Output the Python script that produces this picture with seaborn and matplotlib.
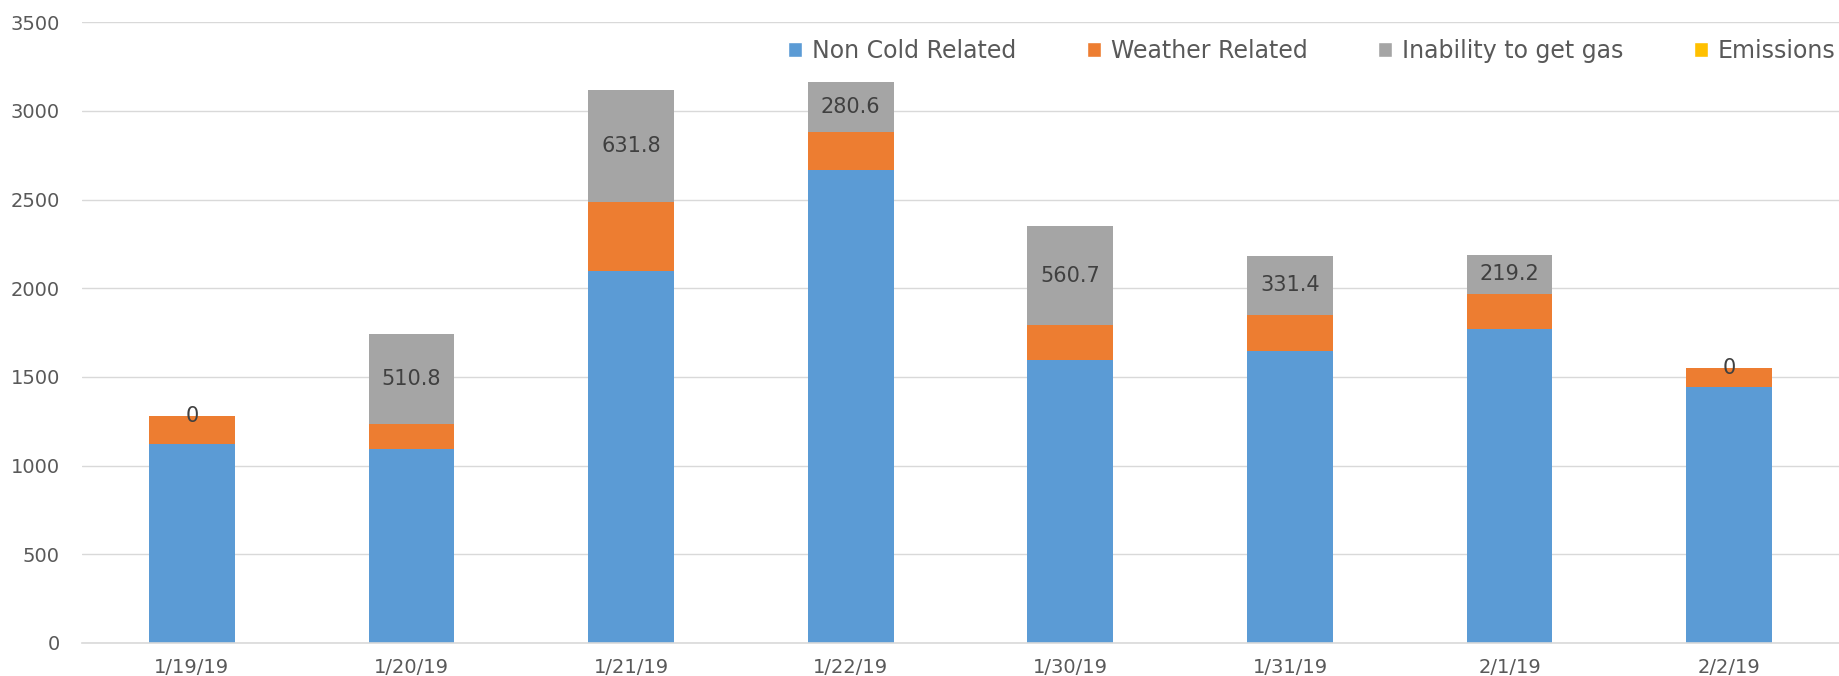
import numpy as np
import pandas as pd
import seaborn as sns
import matplotlib.pyplot as plt
from matplotlib.patches import Patch

# data
dates = ['1/19/19', '1/20/19', '1/21/19', '1/22/19', '1/30/19', '1/31/19', '2/1/19', '2/2/19']
non_cold = [1120, 1095, 2095, 2665, 1598, 1645, 1770, 1445]
weather = [160, 138, 391, 219, 192, 205, 199, 106]
no_gas = [0, 510.8, 631.8, 280.6, 560.7, 331.4, 219.2, 0]
emissions = [0, 0, 0, 0, 0, 0, 0, 0]

series = ['Non Cold Related', 'Weather Related', 'Inability to get gas', 'Emissions']
colors = ['#5b9bd5', '#ed7d31', '#a5a5a5', '#ffc000']

df = pd.DataFrame({'date': dates, 'Non Cold Related': non_cold, 'Weather Related': weather,
                   'Inability to get gas': no_gas, 'Emissions': emissions})

sns.set_style('white')
plt.rcParams['font.family'] = ['DejaVu Sans']

fig = plt.figure(figsize=(18.39, 6.76), dpi=100)
ax = fig.add_axes([0.0446, 0.049, 0.9554, 0.918])

bottom = np.zeros(len(dates))
for s, c in zip(series, colors):
    sns.barplot(data=df, x='date', y=s, color=c, width=0.39, bottom=bottom,
                saturation=1, ax=ax, linewidth=0)
    bottom = bottom + df[s].values

# labels on the gray segments
gas_bars = ax.containers[2]
ax.bar_label(gas_bars, labels=[f'{v:g}' for v in no_gas], label_type='center',
             fontsize=15, color='#404040')

ax.set_ylim(0, 3500)
ax.set_xlim(-0.5, 7.5)
ax.set_yticks(range(0, 3501, 500))
ax.yaxis.grid(True, color='#d9d9d9', linewidth=1)
ax.set_axisbelow(True)
for sp in ['top', 'right', 'left']:
    ax.spines[sp].set_visible(False)
ax.spines['bottom'].set_color('#d9d9d9')
ax.spines['bottom'].set_linewidth(1.2)

ax.set_xlabel('')
ax.set_ylabel('')
ax.set_xticks(np.arange(-0.5, 7.6, 1), minor=True)
ax.tick_params(axis='x', which='minor', length=6, color='#d9d9d9', width=1)
ax.tick_params(axis='x', which='major', length=0, pad=11, labelsize=14, labelcolor='#595959')
ax.tick_params(axis='y', length=0, pad=16, labelsize=14, labelcolor='#595959')

handles = [Patch(facecolor=c, label=s) for s, c in zip(series, colors)]
ax.legend(handles=handles, ncol=4, loc='upper right', bbox_to_anchor=(1.01, 1.008),
          frameon=False, fontsize=17, handlelength=0.6, handleheight=0.6,
          handletextpad=0.4, columnspacing=3.0, labelcolor='#595959')

fig.savefig('out.png', dpi=100)
